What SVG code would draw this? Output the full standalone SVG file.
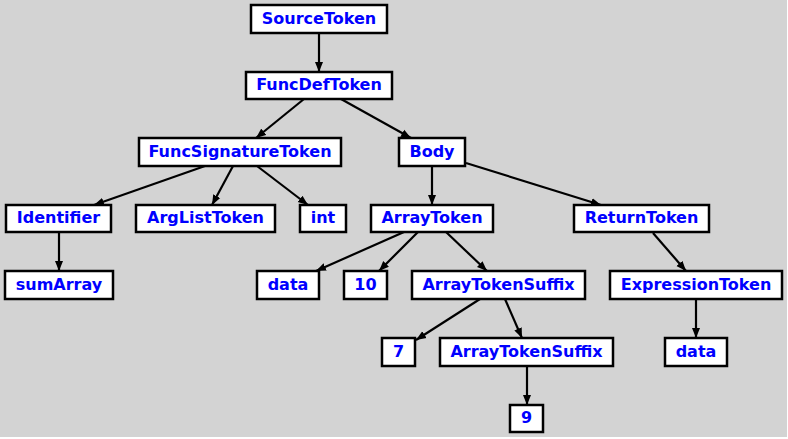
<svg xmlns="http://www.w3.org/2000/svg" width="788" height="439" viewBox="0 0 788 439">
<style>
.n rect{fill:#fff;stroke:#000;stroke-width:2.5}
.n text{font-family:"DejaVu Sans",sans-serif;font-weight:bold;font-size:16px;fill:#0000ff;text-anchor:middle}
#edges line{stroke:#000;stroke-width:2.2;marker-end:url(#ah)}
</style>
<defs>
<marker id="ah" markerUnits="userSpaceOnUse" markerWidth="11" markerHeight="9" refX="10" refY="4.5" orient="auto">
<path d="M0,0.5 L10,4.5 L0,8.5 z" fill="#000"/>
</marker>
</defs>
<rect x="0" y="0" width="788" height="439" fill="#fff"/>
<rect x="0" y="0" width="787" height="437" fill="#d3d3d3"/>
<g id="edges">
<line x1="319" y1="33" x2="319" y2="72"/>
<line x1="304" y1="99" x2="256" y2="138"/>
<line x1="341" y1="99" x2="411" y2="138"/>
<line x1="205" y1="166" x2="94" y2="205"/>
<line x1="233" y1="166" x2="212" y2="205"/>
<line x1="257" y1="166" x2="308" y2="205"/>
<line x1="432" y1="166" x2="432" y2="205"/>
<line x1="466" y1="163" x2="601" y2="205"/>
<line x1="59" y1="232" x2="59" y2="271"/>
<line x1="404" y1="232" x2="316" y2="271"/>
<line x1="418" y1="232" x2="379" y2="271"/>
<line x1="446" y1="232" x2="487" y2="271"/>
<line x1="653" y1="233" x2="686" y2="271"/>
<line x1="480" y1="299" x2="416" y2="340"/>
<line x1="505" y1="299" x2="522" y2="338"/>
<line x1="527" y1="366" x2="527" y2="405"/>
<line x1="696" y1="299" x2="696" y2="338"/>
</g>
<g id="SourceToken" class="n"><rect x="251" y="5" width="136" height="28"/><text x="319" y="23.5">SourceToken</text></g>
<g id="FuncDefToken" class="n"><rect x="246" y="72" width="146" height="27"/><text x="319" y="90">FuncDefToken</text></g>
<g id="FuncSignatureToken" class="n"><rect x="139" y="138" width="202" height="28"/><text x="240" y="156.5">FuncSignatureToken</text></g>
<g id="Body" class="n"><rect x="399" y="138" width="66" height="28"/><text x="432" y="156.5">Body</text></g>
<g id="Identifier" class="n"><rect x="6" y="205" width="105" height="27"/><text x="58.5" y="223">Identifier</text></g>
<g id="ArgListToken" class="n"><rect x="136" y="205" width="139" height="27"/><text x="205.5" y="223">ArgListToken</text></g>
<g id="int" class="n"><rect x="300" y="205" width="46" height="27"/><text x="323" y="223">int</text></g>
<g id="ArrayToken" class="n"><rect x="371" y="205" width="122" height="27"/><text x="432" y="223">ArrayToken</text></g>
<g id="ReturnToken" class="n"><rect x="574" y="205" width="135" height="27"/><text x="641.5" y="223">ReturnToken</text></g>
<g id="sumArray" class="n"><rect x="5" y="271" width="108" height="28"/><text x="59" y="289.5">sumArray</text></g>
<g id="data1" class="n"><rect x="257" y="271" width="62" height="28"/><text x="288" y="289.5">data</text></g>
<g id="ten" class="n"><rect x="344" y="271" width="43" height="28"/><text x="365.5" y="289.5">10</text></g>
<g id="ArrayTokenSuffix1" class="n"><rect x="412" y="271" width="173" height="28"/><text x="498.5" y="289.5">ArrayTokenSuffix</text></g>
<g id="ExpressionToken" class="n"><rect x="610" y="271" width="172" height="28"/><text x="696" y="289.5">ExpressionToken</text></g>
<g id="seven" class="n"><rect x="382" y="338" width="33" height="28"/><text x="398.5" y="356.5">7</text></g>
<g id="ArrayTokenSuffix2" class="n"><rect x="440" y="338" width="173" height="28"/><text x="526.5" y="356.5">ArrayTokenSuffix</text></g>
<g id="data2" class="n"><rect x="665" y="338" width="62" height="28"/><text x="696" y="356.5">data</text></g>
<g id="nine" class="n"><rect x="510" y="405" width="33" height="27"/><text x="526.5" y="423">9</text></g>
</svg>
